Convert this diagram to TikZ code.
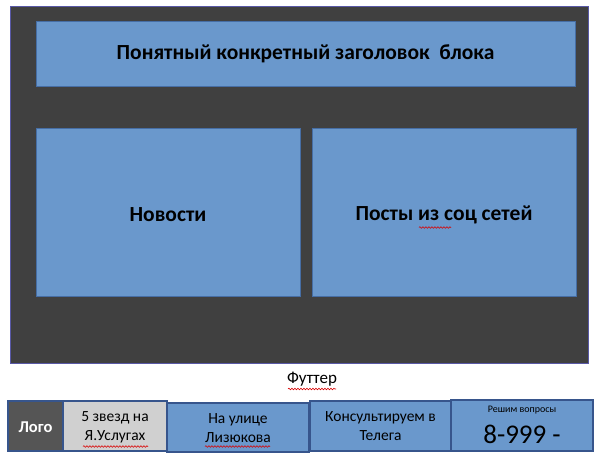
\documentclass[tikz,border=0pt]{standalone}
\usepackage{fontspec}
\setmainfont{Carlito}
\usetikzlibrary{decorations.pathmorphing}
\definecolor{darkbg}{RGB}{64,64,64}
\definecolor{boxblue}{RGB}{106,152,204}
\definecolor{boxedge}{RGB}{70,110,165}
\definecolor{footedge}{RGB}{55,85,140}
\definecolor{logogray}{RGB}{85,85,85}
\definecolor{lightgray2}{RGB}{208,208,208}
\tikzset{
  panel/.style={rectangle, draw=boxedge, line width=0.8pt, fill=boxblue, inner sep=0pt, align=center},
  cell/.style={rectangle, draw=footedge, line width=1.2pt, fill=boxblue, inner sep=0pt, align=center, minimum height=50pt},
  celltxt/.style={align=center, inner sep=0pt, font=\fontsize{15.5}{19}\selectfont},
  bigtxt/.style={font=\bfseries\fontsize{21.5}{24}\selectfont, inner sep=0pt},
  spell/.style={draw=red!85!black, line width=0.6pt, decorate, decoration={snake, amplitude=0.8pt, segment length=3pt}}
}
\begin{document}
\begin{tikzpicture}[x=1pt,y=-1pt]
\useasboundingbox (0,0) rectangle (600,459);
\fill[white] (0,0) rectangle (600,459);
\node[rectangle, fill=darkbg, draw=gray!70!blue, line width=0.4pt, minimum width=578pt, minimum height=357pt, inner sep=0pt] (bg) at (299,184.5) {};
\node[panel, minimum width=539pt, minimum height=65pt] (head) at (305.5,53.5) {};
\node[bigtxt] (headt) at (305.5,54) {Понятный конкретный заголовок\ \ блока};
\node[panel, minimum width=264pt, minimum height=168pt] (news) at (168,212) {};
\node[bigtxt] (newst) at (168,215) {Новости};
\node[panel, minimum width=264pt, minimum height=168pt] (posts) at (444,212) {};
\node[bigtxt] (postst) at (444,215) {Посты из соц сетей};
\node[font=\fontsize{17}{19}\selectfont] (foot) at (312,379) {Футтер};
\node[cell, fill=logogray, minimum width=55pt] (logo) at (35.5,426) {};
\node[text=white, font=\bfseries\fontsize{16.5}{19}\selectfont] (logot) at (35.5,427) {Лого};
\node[cell, fill=lightgray2, minimum width=104pt] (stars) at (115,426) {};
\node[celltxt] (starst) at (115,427.5) {5 звезд на\\Я.Услугах};
\node[cell, minimum width=142pt, minimum height=49pt] (street) at (238,427.5) {};
\node[celltxt] (streett) at (238,428) {На улице\\Лизюкова};
\node[cell, minimum width=141pt] (cons) at (380.5,426) {};
\node[celltxt] (const) at (380.5,426) {Консультируем в\\Телега};
\node[cell, minimum width=142pt, minimum height=51pt] (phone) at (522,425.5) {};
\node[font=\fontsize{10}{11}\selectfont] (phsmall) at (522,410) {Решим вопросы};
\node[font=\fontsize{27}{30}\selectfont] (phbig) at (522,434) {8-999 -};
\coordinate (s1a) at (288,389); \coordinate (s1b) at (336,389);
\draw[spell] (s1a) -- (s1b);
\coordinate (s2a) at (83,446.5); \coordinate (s2b) at (148,446.5);
\draw[spell] (s2a) -- (s2b);
\coordinate (s3a) at (205,446.5); \coordinate (s3b) at (270,446.5);
\draw[spell] (s3a) -- (s3b);
\coordinate (s4a) at (419,227.5); \coordinate (s4b) at (451,227.5);
\draw[spell] (s4a) -- (s4b);
\end{tikzpicture}
\end{document}
